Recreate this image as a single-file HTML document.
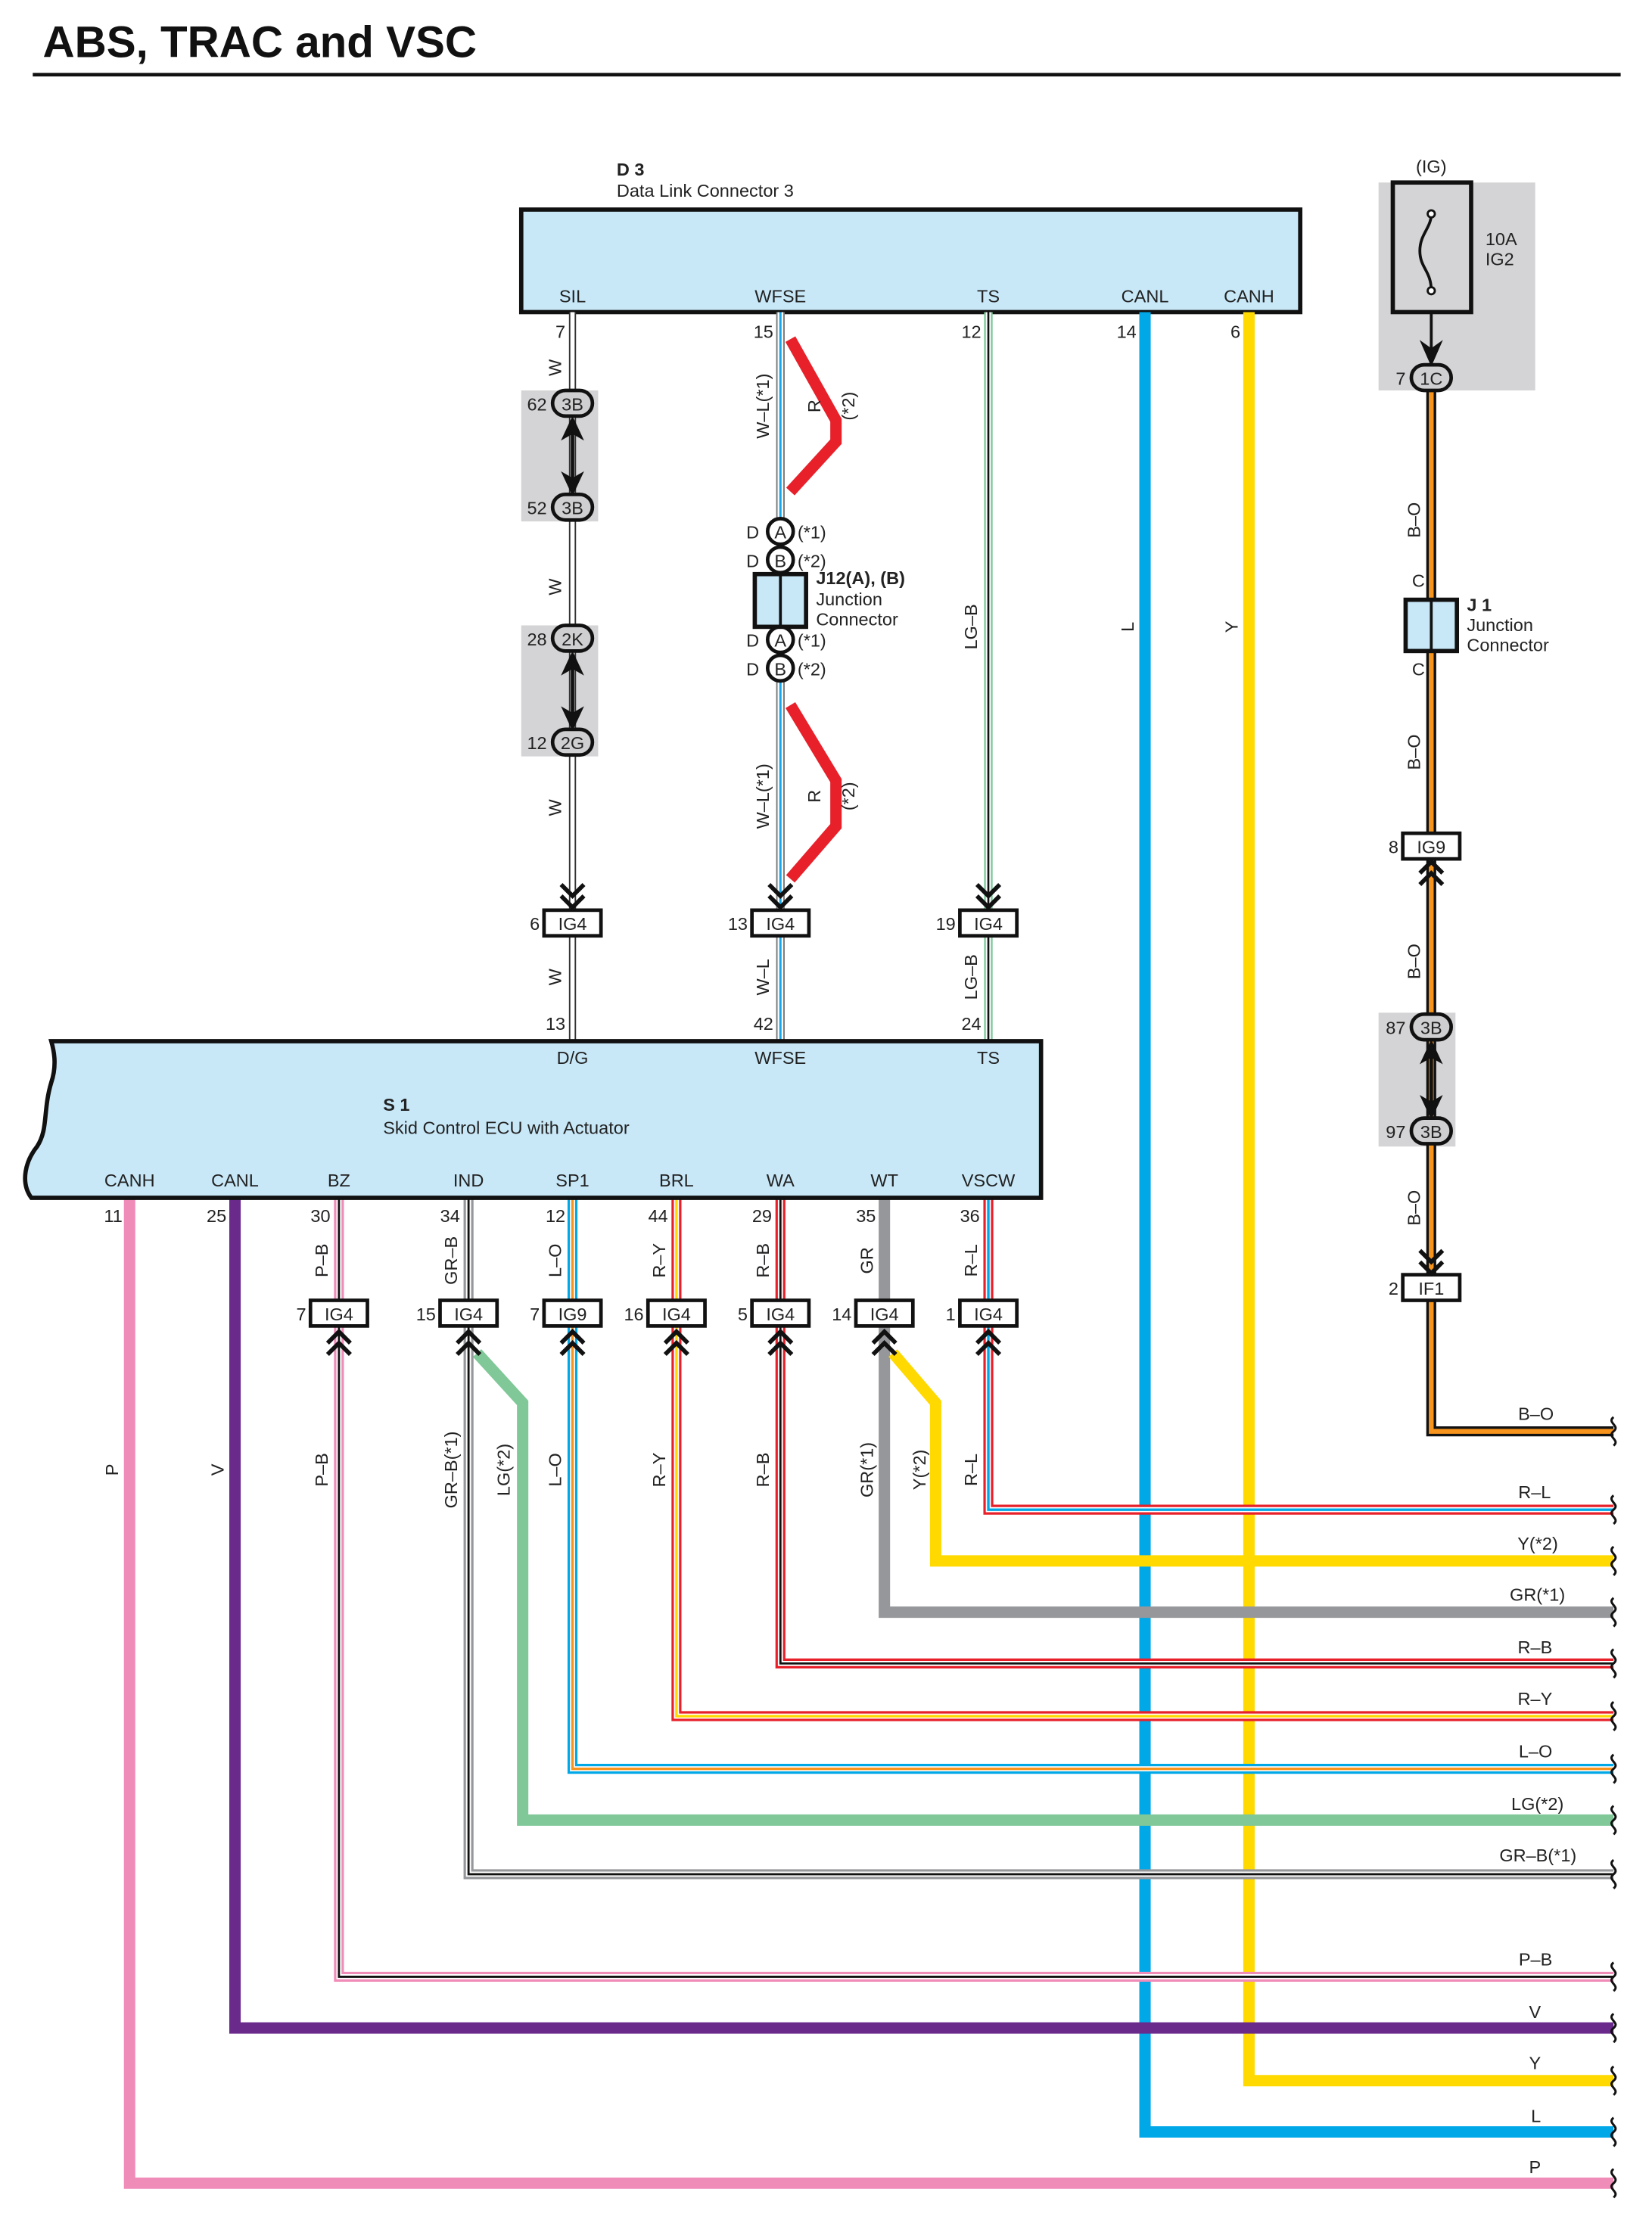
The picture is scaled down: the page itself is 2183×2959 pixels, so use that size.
<!DOCTYPE html>
<html><head><meta charset="utf-8"><style>
html,body{margin:0;padding:0;background:#fff}
svg{display:block}
text{font-family:"Liberation Sans",Arial,sans-serif;font-size:12.5px;fill:#222}
.b{font-weight:bold}
</style></head><body>
<svg width="2183" height="2959" viewBox="0 0 1160 1572" xmlns="http://www.w3.org/2000/svg">
<rect width="1160" height="1572" fill="#fff"/>
<text x="30" y="40" class="b" style="font-size:31px;fill:#111">ABS, TRAC and VSC</text>
<rect x="23" y="51" width="1115" height="2.5" fill="#111"/>

<!-- grey backgrounds -->
<rect x="366" y="274" width="54" height="92" fill="#d4d4d6"/>
<rect x="366" y="439" width="54" height="92" fill="#d4d4d6"/>
<rect x="968" y="128" width="110" height="146" fill="#d4d4d6"/>
<rect x="968" y="711" width="54" height="94" fill="#d4d4d6"/>

<!-- D3 box -->
<text x="433" y="123" class="b">D 3</text>
<text x="433" y="138">Data Link Connector 3</text>
<rect x="366" y="147" width="547" height="72" fill="#c8e8f8" stroke="#111" stroke-width="3"/>
<text x="402" y="212" text-anchor="middle">SIL</text>
<text x="548" y="212" text-anchor="middle">WFSE</text>
<text x="694" y="212" text-anchor="middle">TS</text>
<text x="804" y="212" text-anchor="middle">CANL</text>
<text x="877" y="212" text-anchor="middle">CANH</text>

<g fill="none" stroke-linejoin="miter">
<!-- SIL white wire -->
<path d="M402 219V731" stroke="#333" stroke-width="5"/>
<path d="M402 219V731" stroke="#fff" stroke-width="3"/>
<!-- WFSE W-L -->
<path d="M548 219V731" stroke="#777" stroke-width="6"/>
<path d="M548 219V731" stroke="#fff" stroke-width="4"/>
<path d="M548 219V731" stroke="#1aa7e8" stroke-width="1.6"/>
<!-- TS LG-B -->
<path d="M694 219V731" stroke="#7cc89a" stroke-width="6"/>
<path d="M694 219V731" stroke="#fff" stroke-width="3.5"/>
<path d="M694 219V731" stroke="#111" stroke-width="1.4"/>
<!-- red bypass -->
<polyline points="555,238 587,295 587,310 555,345" stroke="#e8202a" stroke-width="8"/>
<polyline points="555,495 587,548 587,580 555,617" stroke="#e8202a" stroke-width="8"/>
<!-- CANL / CANH -->
<path d="M804 219V1497H1133" stroke="#00a8e8" stroke-width="8"/>
<path d="M877 219V1461H1133" stroke="#ffd900" stroke-width="8"/>
<!-- B-O -->
<path d="M1005 255V1005H1133" stroke="#111" stroke-width="7"/>
<path d="M1005 255V1005H1133" stroke="#f7941d" stroke-width="3.4"/>

<!-- bottom wires -->
<path d="M91 841V1533H1133" stroke="#f08cb8" stroke-width="8"/>
<path d="M165 841V1424H1133" stroke="#6a2a8c" stroke-width="8"/>
<path d="M335 950L367 985V1278H1133" stroke="#80c898" stroke-width="8"/>
<path d="M621 841V1132H1133" stroke="#96979b" stroke-width="8"/>
<path d="M627 950L657 985V1096H1133" stroke="#ffd900" stroke-width="8"/>

<g id="pb"><path d="M238 841V1388H1133" stroke="#f08cb8" stroke-width="7"/><path d="M238 841V1388H1133" stroke="#fff" stroke-width="3.6"/><path d="M238 841V1388H1133" stroke="#111" stroke-width="1.5"/></g>
<g><path d="M329 841V1316H1133" stroke="#96979b" stroke-width="7"/><path d="M329 841V1316H1133" stroke="#fff" stroke-width="3.6"/><path d="M329 841V1316H1133" stroke="#111" stroke-width="1.5"/></g>
<g><path d="M402 841V1242H1133" stroke="#00a8e8" stroke-width="7"/><path d="M402 841V1242H1133" stroke="#fff" stroke-width="3.6"/><path d="M402 841V1242H1133" stroke="#f7941d" stroke-width="1.8"/></g>
<g><path d="M475 841V1205H1133" stroke="#e8202a" stroke-width="7"/><path d="M475 841V1205H1133" stroke="#fff" stroke-width="3.6"/><path d="M475 841V1205H1133" stroke="#ffd900" stroke-width="1.8"/></g>
<g><path d="M548 841V1168H1133" stroke="#e8202a" stroke-width="7"/><path d="M548 841V1168H1133" stroke="#fff" stroke-width="3.6"/><path d="M548 841V1168H1133" stroke="#111" stroke-width="1.5"/></g>
<g><path d="M694 841V1060H1133" stroke="#e8202a" stroke-width="7"/><path d="M694 841V1060H1133" stroke="#fff" stroke-width="3.6"/><path d="M694 841V1060H1133" stroke="#00a8e8" stroke-width="1.8"/></g>
</g>

<!-- right wavy breaks -->
<g fill="none" stroke="#111" stroke-width="1.6">
<path d="M1133 995c-5 4 5 6 0 10c-5 4 5 6 0 10"/>
<path d="M1133 1050c-5 4 5 6 0 10c-5 4 5 6 0 10"/>
<path d="M1133 1086c-5 4 5 6 0 10c-5 4 5 6 0 10"/>
<path d="M1133 1122c-5 4 5 6 0 10c-5 4 5 6 0 10"/>
<path d="M1133 1158c-5 4 5 6 0 10c-5 4 5 6 0 10"/>
<path d="M1133 1195c-5 4 5 6 0 10c-5 4 5 6 0 10"/>
<path d="M1133 1232c-5 4 5 6 0 10c-5 4 5 6 0 10"/>
<path d="M1133 1268c-5 4 5 6 0 10c-5 4 5 6 0 10"/>
<path d="M1133 1306c-5 4 5 6 0 10c-5 4 5 6 0 10"/>
<path d="M1133 1378c-5 4 5 6 0 10c-5 4 5 6 0 10"/>
<path d="M1133 1414c-5 4 5 6 0 10c-5 4 5 6 0 10"/>
<path d="M1133 1451c-5 4 5 6 0 10c-5 4 5 6 0 10"/>
<path d="M1133 1487c-5 4 5 6 0 10c-5 4 5 6 0 10"/>
<path d="M1133 1523c-5 4 5 6 0 10c-5 4 5 6 0 10"/>
</g>

<!-- pills -->
<g stroke="#111" stroke-width="2.5" fill="#cfcfd1">
<rect x="388" y="274" width="28" height="18" rx="9"/>
<rect x="388" y="347" width="28" height="18" rx="9"/>
<rect x="388" y="439" width="28" height="18" rx="9"/>
<rect x="388" y="512" width="28" height="18" rx="9"/>
<rect x="991" y="256" width="28" height="18" rx="9"/>
<rect x="991" y="712" width="28" height="18" rx="9"/>
<rect x="991" y="785" width="28" height="18" rx="9"/>
</g>
<g text-anchor="middle">
<text x="402" y="288">3B</text><text x="402" y="361">3B</text><text x="402" y="453">2K</text><text x="402" y="526">2G</text>
<text x="1005" y="270">1C</text><text x="1005" y="726">3B</text><text x="1005" y="799">3B</text>
</g>
<g text-anchor="end">
<text x="384" y="288">62</text><text x="384" y="361">52</text><text x="384" y="453">28</text><text x="384" y="526">12</text>
<text x="987" y="270">7</text><text x="987" y="726">87</text><text x="987" y="799">97</text>
</g>
<!-- double arrows -->
<g fill="#111" stroke="#111">
<line x1="402" y1="300" x2="402" y2="340" stroke-width="2.5"/>
<path d="M395 308L402 293L409 308L402 304Z"/><path d="M395 332L402 347L409 332L402 336Z"/>
<line x1="402" y1="465" x2="402" y2="505" stroke-width="2.5"/>
<path d="M395 473L402 458L409 473L402 469Z"/><path d="M395 497L402 512L409 497L402 501Z"/>
<line x1="1005" y1="738" x2="1005" y2="778" stroke-width="2.5"/>
<path d="M998 746L1005 731L1012 746L1005 742Z"/><path d="M998 770L1005 785L1012 770L1005 774Z"/>
<path d="M998 240L1005 256L1012 240L1005 245Z"/>
</g>

<!-- fuse -->
<rect x="978" y="128" width="55" height="91" fill="#d4d4d6" stroke="#111" stroke-width="3"/>
<path d="M1005 150c0 10 -8 14 -8 26c0 12 8 14 8 28" fill="none" stroke="#111" stroke-width="2"/>
<circle cx="1005" cy="150" r="2.5" fill="#fff" stroke="#111" stroke-width="1.5"/>
<circle cx="1005" cy="204" r="2.5" fill="#fff" stroke="#111" stroke-width="1.5"/>
<line x1="1005" y1="219" x2="1005" y2="245" stroke="#111" stroke-width="2"/>
<text x="1005" y="121" text-anchor="middle">(IG)</text>
<text x="1043" y="172">10A</text><text x="1043" y="186">IG2</text>

<!-- connector boxes -->
<g fill="#fff" stroke="#111" stroke-width="2.5">
<rect x="382" y="639" width="40" height="18"/><rect x="528" y="639" width="40" height="18"/><rect x="674" y="639" width="40" height="18"/>
<rect x="985" y="585" width="40" height="18"/><rect x="985" y="895" width="40" height="18"/>
<rect x="218" y="913" width="40" height="18"/><rect x="309" y="913" width="40" height="18"/><rect x="382" y="913" width="40" height="18"/>
<rect x="455" y="913" width="40" height="18"/><rect x="528" y="913" width="40" height="18"/><rect x="601" y="913" width="40" height="18"/><rect x="674" y="913" width="40" height="18"/>
</g>
<g text-anchor="middle">
<text x="402" y="653">IG4</text><text x="548" y="653">IG4</text><text x="694" y="653">IG4</text>
<text x="1005" y="599">IG9</text><text x="1005" y="909">IF1</text>
<text x="238" y="927">IG4</text><text x="329" y="927">IG4</text><text x="402" y="927">IG9</text><text x="475" y="927">IG4</text>
<text x="548" y="927">IG4</text><text x="621" y="927">IG4</text><text x="694" y="927">IG4</text>
</g>
<g text-anchor="end">
<text x="379" y="653">6</text><text x="525" y="653">13</text><text x="671" y="653">19</text>
<text x="982" y="599">8</text><text x="982" y="909">2</text>
<text x="215" y="927">7</text><text x="306" y="927">15</text><text x="379" y="927">7</text><text x="452" y="927">16</text>
<text x="525" y="927">5</text><text x="598" y="927">14</text><text x="671" y="927">1</text>
</g>
<!-- chevrons -->
<g fill="none" stroke="#111" stroke-width="3">
<path d="M394 621l8 8l8-8M394 629l8 8l8-8"/><path d="M540 621l8 8l8-8M540 629l8 8l8-8"/><path d="M686 621l8 8l8-8M686 629l8 8l8-8"/>
<path d="M997 878l8 8l8-8M997 886l8 8l8-8"/>
<path d="M997 613l8-8l8 8M997 621l8-8l8 8"/>
<path d="M230 943l8-8l8 8M230 951l8-8l8 8"/><path d="M321 943l8-8l8 8M321 951l8-8l8 8"/><path d="M394 943l8-8l8 8M394 951l8-8l8 8"/>
<path d="M467 943l8-8l8 8M467 951l8-8l8 8"/><path d="M540 943l8-8l8 8M540 951l8-8l8 8"/><path d="M613 943l8-8l8 8M613 951l8-8l8 8"/><path d="M686 943l8-8l8 8M686 951l8-8l8 8"/>
</g>

<!-- J12 -->
<g stroke="#111" stroke-width="2.5" fill="#fff">
<circle cx="548" cy="373" r="9"/><circle cx="548" cy="393" r="9"/><circle cx="548" cy="449" r="9"/><circle cx="548" cy="469" r="9"/>
</g>
<rect x="530" y="403" width="36" height="37" fill="#c8e8f8" stroke="#111" stroke-width="3"/>
<line x1="548" y1="403" x2="548" y2="440" stroke="#111" stroke-width="2"/>
<g text-anchor="middle"><text x="548" y="378">A</text><text x="548" y="398">B</text><text x="548" y="454">A</text><text x="548" y="474">B</text></g>
<text x="524" y="378">D</text><text x="524" y="398">D</text><text x="524" y="454">D</text><text x="524" y="474">D</text>
<text x="560" y="378">(*1)</text><text x="560" y="398">(*2)</text><text x="560" y="454">(*1)</text><text x="560" y="474">(*2)</text>
<text x="573" y="410" class="b">J12(A), (B)</text><text x="573" y="425">Junction</text><text x="573" y="439">Connector</text>

<!-- J1 -->
<rect x="987" y="421" width="36" height="36" fill="#c8e8f8" stroke="#111" stroke-width="3"/>
<line x1="1005" y1="421" x2="1005" y2="457" stroke="#111" stroke-width="2"/>
<text x="1030" y="429" class="b">J 1</text><text x="1030" y="443">Junction</text><text x="1030" y="457">Connector</text>

<!-- pin numbers top -->
<g text-anchor="end">
<text x="397" y="237">7</text><text x="543" y="237">15</text><text x="689" y="237">12</text><text x="798" y="237">14</text><text x="871" y="237">6</text>
<text x="397" y="723">13</text><text x="543" y="723">42</text><text x="689" y="723">24</text>
<text x="86" y="858">11</text><text x="159" y="858">25</text><text x="232" y="858">30</text><text x="323" y="858">34</text>
<text x="397" y="858">12</text><text x="469" y="858">44</text><text x="542" y="858">29</text><text x="615" y="858">35</text><text x="688" y="858">36</text>
</g>
<text x="996" y="412" text-anchor="middle">C</text><text x="996" y="474" text-anchor="middle">C</text>

<!-- rotated labels -->
<g text-anchor="middle">
<text transform="translate(394,258) rotate(-90)">W</text>
<text transform="translate(394,412) rotate(-90)">W</text>
<text transform="translate(394,567) rotate(-90)">W</text>
<text transform="translate(394,686) rotate(-90)">W</text>
<text transform="translate(540,285) rotate(-90)">W–L(*1)</text>
<text transform="translate(540,559) rotate(-90)">W–L(*1)</text>
<text transform="translate(540,686) rotate(-90)">W–L</text>
<text transform="translate(576,285) rotate(-90)">R</text>
<text transform="translate(600,285) rotate(-90)">(*2)</text>
<text transform="translate(576,559) rotate(-90)">R</text>
<text transform="translate(600,559) rotate(-90)">(*2)</text>
<text transform="translate(686,440) rotate(-90)">LG–B</text>
<text transform="translate(686,686) rotate(-90)">LG–B</text>
<text transform="translate(796,440) rotate(-90)">L</text>
<text transform="translate(869,440) rotate(-90)">Y</text>
<text transform="translate(997,365) rotate(-90)">B–O</text>
<text transform="translate(997,528) rotate(-90)">B–O</text>
<text transform="translate(997,675) rotate(-90)">B–O</text>
<text transform="translate(997,848) rotate(-90)">B–O</text>
<text transform="translate(83,1032) rotate(-90)">P</text>
<text transform="translate(157,1032) rotate(-90)">V</text>
<text transform="translate(230,885) rotate(-90)">P–B</text>
<text transform="translate(230,1032) rotate(-90)">P–B</text>
<text transform="translate(321,885) rotate(-90)">GR–B</text>
<text transform="translate(321,1032) rotate(-90)">GR–B(*1)</text>
<text transform="translate(358,1032) rotate(-90)">LG(*2)</text>
<text transform="translate(394,885) rotate(-90)">L–O</text>
<text transform="translate(394,1032) rotate(-90)">L–O</text>
<text transform="translate(467,885) rotate(-90)">R–Y</text>
<text transform="translate(467,1032) rotate(-90)">R–Y</text>
<text transform="translate(540,885) rotate(-90)">R–B</text>
<text transform="translate(540,1032) rotate(-90)">R–B</text>
<text transform="translate(613,885) rotate(-90)">GR</text>
<text transform="translate(613,1032) rotate(-90)">GR(*1)</text>
<text transform="translate(650,1032) rotate(-90)">Y(*2)</text>
<text transform="translate(686,885) rotate(-90)">R–L</text>
<text transform="translate(686,1032) rotate(-90)">R–L</text>
</g>

<!-- S1 box -->
<path d="M36 731H731V841H22C14 830 18 815 26 805C34 793 30 780 36 760C40 748 38 738 36 731Z" fill="#c8e8f8" stroke="#111" stroke-width="3"/>
<text x="402" y="747" text-anchor="middle">D/G</text><text x="548" y="747" text-anchor="middle">WFSE</text><text x="694" y="747" text-anchor="middle">TS</text>
<text x="269" y="780" class="b">S 1</text><text x="269" y="796">Skid Control ECU with Actuator</text>
<g text-anchor="middle">
<text x="91" y="833">CANH</text><text x="165" y="833">CANL</text><text x="238" y="833">BZ</text><text x="329" y="833">IND</text>
<text x="402" y="833">SP1</text><text x="475" y="833">BRL</text><text x="548" y="833">WA</text><text x="621" y="833">WT</text><text x="694" y="833">VSCW</text>
</g>

<!-- right labels -->
<g text-anchor="end">
<text x="1091" y="997">B–O</text><text x="1089" y="1052">R–L</text><text x="1094" y="1088">Y(*2)</text><text x="1099" y="1124">GR(*1)</text>
<text x="1090" y="1161">R–B</text><text x="1090" y="1197">R–Y</text><text x="1090" y="1234">L–O</text><text x="1098" y="1271">LG(*2)</text>
<text x="1107" y="1307">GR–B(*1)</text><text x="1090" y="1380">P–B</text><text x="1082" y="1417">V</text><text x="1082" y="1453">Y</text>
<text x="1082" y="1490">L</text><text x="1082" y="1526">P</text>
</g>
</svg>
</body></html>
